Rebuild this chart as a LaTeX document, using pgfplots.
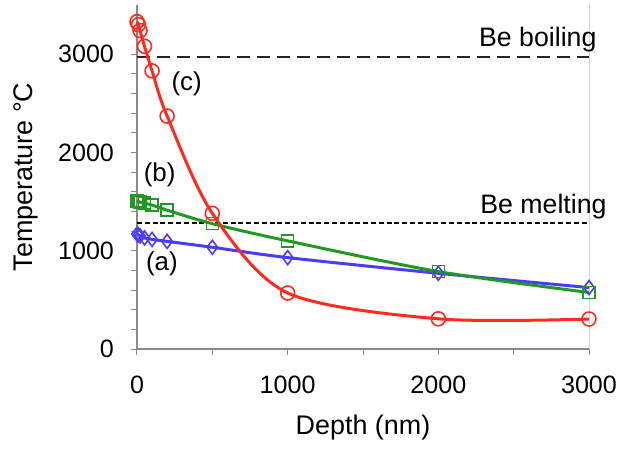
\documentclass[border=0pt]{standalone}
\usepackage{fontspec}
\setmainfont{Liberation Sans}
\usepackage{pgfplots}
\pgfplotsset{compat=1.18}
\definecolor{cred}{HTML}{FF2A1E}
\definecolor{cgreen}{HTML}{1F9A1F}
\definecolor{cblue}{HTML}{4A3CFF}
\definecolor{axgray}{HTML}{8A8A8A}

\begin{document}
\begin{tikzpicture}
\begin{axis}[
  at={(0,0)},anchor=south west,
  width=226bp,height=172bp,scale only axis,
  xmin=0,xmax=3000,ymin=0,ymax=3500,
  axis x line*=bottom,axis y line*=left,
  axis line style={axgray,line width=0.6pt,-},
  xtick={0,1000,2000,3000},minor xtick={500,1500,2500},
  ytick={0,1000,2000,3000},minor y tick num=4,
  tick align=outside,
  major tick length=3bp,minor tick length=3bp,
  every tick/.style={axgray,line width=0.5pt},
  /pgf/number format/.cd,1000 sep={},assume math mode=true,
  /pgfplots/.cd,
  ticklabel style={font=\fontsize{12.6}{14}\selectfont},
  xticklabel style={yshift=-7bp},
  yticklabel style={xshift=-5bp},
  xlabel={Depth (nm)},ylabel={Temperature °C},
  label style={font=\fontsize{13.5}{15}\selectfont},
  xlabel style={yshift=-4bp},
  ylabel style={yshift=3bp},
  clip=false,
]
\draw[gray!35,line width=0.5pt] (rel axis cs:1,0) -- (rel axis cs:1,1);
\addplot[black!85,dash pattern=on 6.5bp off 3.5bp,line width=1.4pt] coordinates {(0,2970)(3000,2970)};
\addplot[black,dash pattern=on 2.5bp off 1.4bp,line width=1pt] coordinates {(0,1287)(3000,1287)};
\addplot[cblue,line width=1.5pt,smooth,mark=diamond,mark size=3.5bp,mark options={line width=0.8pt}] coordinates {
(0,1170)(10,1160)(20,1150)(50,1130)(100,1115)(200,1095)(500,1035)(1000,930)(2000,770)(3000,625)};
\addplot[cgreen,line width=1.5pt,smooth,mark=square,mark size=3bp,mark options={line width=0.8pt}] coordinates {
(0,1505)(10,1500)(20,1494)(50,1484)(100,1464)(200,1412)(500,1275)(1000,1100)(2000,788)(3000,575)};
\addplot[cred,line width=1.5pt,smooth,mark=o,mark size=3.5bp,mark options={line width=0.8pt}] coordinates {
(0,3330)(10,3300)(20,3240)(50,3080)(100,2830)(200,2370)(500,1380)(1000,570)(2000,307)(3000,305)};
\node[anchor=base east,inner sep=0pt,font=\fontsize{13.4}{15}\selectfont] at (axis cs:3052,3081) {Be boiling};
\node[anchor=base east,inner sep=0pt,font=\fontsize{13.4}{15}\selectfont] at (axis cs:3119,1382) {Be melting};
\node[font=\fontsize{13}{15}\selectfont] at (axis cs:330,2700) {(c)};
\node[font=\fontsize{13}{15}\selectfont] at (axis cs:150,1770) {(b)};
\node[font=\fontsize{13}{15}\selectfont] at (axis cs:165,870) {(a)};
\end{axis}
\pgfresetboundingbox
\path (-68.5bp,-51bp) rectangle (241.5bp,174.5bp);
\end{tikzpicture}
\end{document}
